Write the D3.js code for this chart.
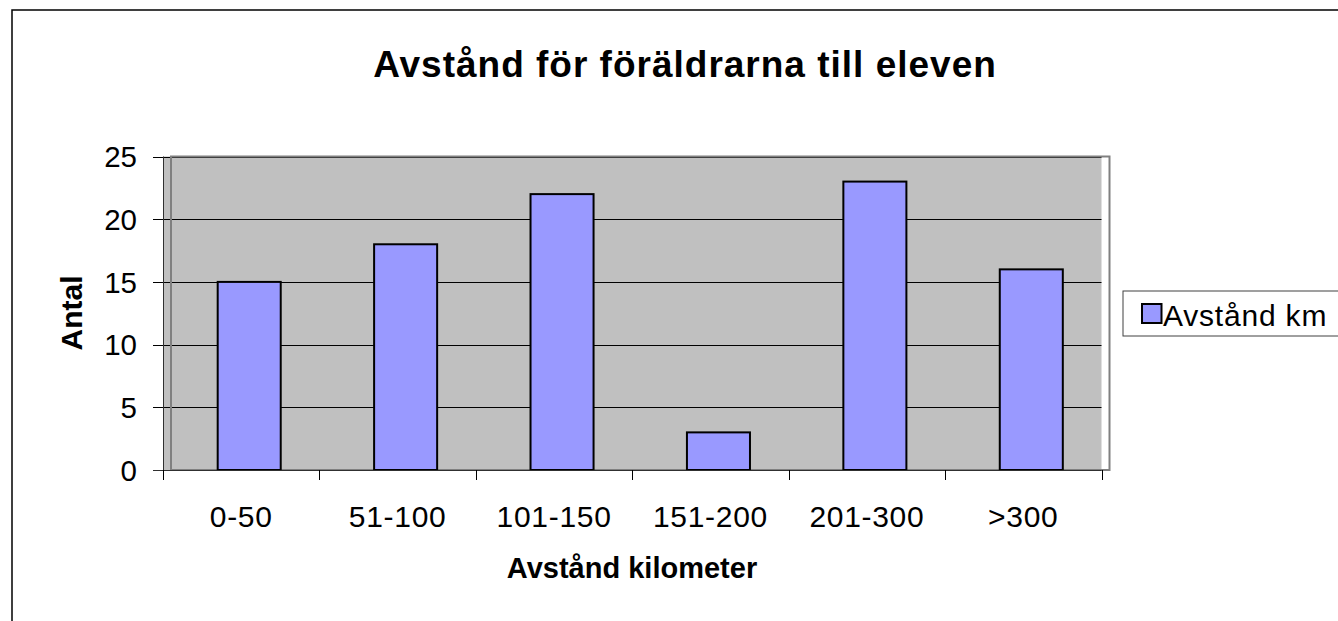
<!DOCTYPE html>
<html>
<head>
<meta charset="utf-8">
<script src="https://cdn.jsdelivr.net/npm/d3@7"></script>
<style>
  html, body { margin: 0; padding: 0; background: #fff; }
  svg { display: block; font-family: "Liberation Sans", Arial, sans-serif; }
</style>
</head>
<body>
<svg id="chart" width="1338" height="621"></svg>
<script>
const title = "Avstånd för föräldrarna till eleven";
const categories = ["0-50", "51-100", "101-150", "151-200", "201-300", ">300"];
const values = [15, 18, 22, 3, 23, 16];
const seriesName = "Avstånd km";
const yTicks = [0, 5, 10, 15, 20, 25];
const xTitle = "Avstånd kilometer";
const yTitle = "Antal";

(function () {
const svg = d3.select("#chart");

// outer chart border
svg.append("rect").attr("x", 12).attr("y", 10).attr("width", 1400).attr("height", 700)
  .attr("fill", "#fff").attr("stroke", "#000").attr("stroke-width", 1.5);

// geometry
const axisL = 163, axisR = 1101.5, plotTop = 156.5, plotBottom = 470;
const off = 8; // 3D wall offset

const y = d3.scaleLinear().domain([0, 25]).range([plotBottom, plotTop]);
const xAxisBand = d3.scaleBand().domain(categories).range([axisL, axisR]).padding(0);
const xBarBand = d3.scaleBand().domain(categories).range([axisL + off, axisR + off]).padding(0);
const barW = xBarBand.bandwidth() * 0.403;

// plot wall
svg.append("rect").attr("x", axisL).attr("y", plotTop).attr("width", axisR - axisL).attr("height", plotBottom - plotTop)
  .attr("fill", "#c0c0c0");

// gridlines
svg.append("g").selectAll("line").data(yTicks).join("line")
  .attr("x1", axisL - 10).attr("x2", axisR)
  .attr("y1", d => Math.round(y(d)) + 0.5).attr("y2", d => Math.round(y(d)) + 0.5)
  .attr("stroke", "#000").attr("stroke-width", 1);

// wall border (offset)
svg.append("rect").attr("x", axisL + off).attr("y", plotTop).attr("width", axisR - axisL).attr("height", plotBottom - plotTop)
  .attr("fill", "none").attr("stroke", "#808080").attr("stroke-width", 2);

// bars
svg.append("g").selectAll("rect").data(values).join("rect")
  .attr("x", (d, i) => xBarBand(categories[i]) + xBarBand.bandwidth() / 2 - barW / 2)
  .attr("y", d => y(d))
  .attr("width", barW)
  .attr("height", d => y(0) - y(d))
  .attr("fill", "#9999ff").attr("stroke", "#000").attr("stroke-width", 2);

// y axis line
svg.append("line").attr("x1", axisL + 0.5).attr("x2", axisL + 0.5).attr("y1", plotTop).attr("y2", plotBottom + 10)
  .attr("stroke", "#303030").attr("stroke-width", 1);
// x axis line
svg.append("line").attr("x1", axisL - 10).attr("x2", axisR).attr("y1", plotBottom + 0.5).attr("y2", plotBottom + 0.5)
  .attr("stroke", "#303030").attr("stroke-width", 1);

// x ticks at band boundaries
const bounds = categories.map(c => xAxisBand(c)).concat([axisR]);
svg.append("g").selectAll("line").data(bounds).join("line")
  .attr("x1", d => Math.round(d) + 0.5).attr("x2", d => Math.round(d) + 0.5)
  .attr("y1", plotBottom).attr("y2", plotBottom + 10)
  .attr("stroke", "#000").attr("stroke-width", 1);

// y tick labels
svg.append("g").selectAll("text").data(yTicks).join("text")
  .attr("x", 137).attr("y", d => y(d) + 10.7)
  .attr("text-anchor", "end").attr("font-size", 29.5).attr("fill", "#000")
  .text(d => d);

// x tick labels
svg.append("g").selectAll("text").data(categories).join("text")
  .attr("x", d => xAxisBand(d) + xAxisBand.bandwidth() / 2).attr("y", 527)
  .attr("text-anchor", "middle").attr("font-size", 30).attr("letter-spacing", 0.7).attr("fill", "#000")
  .text(d => d);

// title
svg.append("text").attr("x", 685).attr("y", 76.5).attr("text-anchor", "middle")
  .attr("font-size", 37).attr("letter-spacing", 1).attr("font-weight", "bold").text(title);

// axis titles
svg.append("text").attr("x", 632).attr("y", 578).attr("text-anchor", "middle")
  .attr("font-size", 29).attr("font-weight", "bold").text(xTitle);
svg.append("text").attr("transform", "translate(81.5,313) rotate(-90)").attr("text-anchor", "middle")
  .attr("font-size", 30).attr("font-weight", "bold").text(yTitle);

// legend
svg.append("rect").attr("x", 1123).attr("y", 291).attr("width", 300).attr("height", 45)
  .attr("fill", "#fff").attr("stroke", "#404040").attr("stroke-width", 1);
svg.append("rect").attr("x", 1142).attr("y", 304).attr("width", 19.5).attr("height", 19)
  .attr("fill", "#9999ff").attr("stroke", "#000").attr("stroke-width", 2);
svg.append("text").attr("x", 1163).attr("y", 325.5).attr("font-size", 30).attr("letter-spacing", 0.8).text(seriesName);
})();
</script>
</body>
</html>
